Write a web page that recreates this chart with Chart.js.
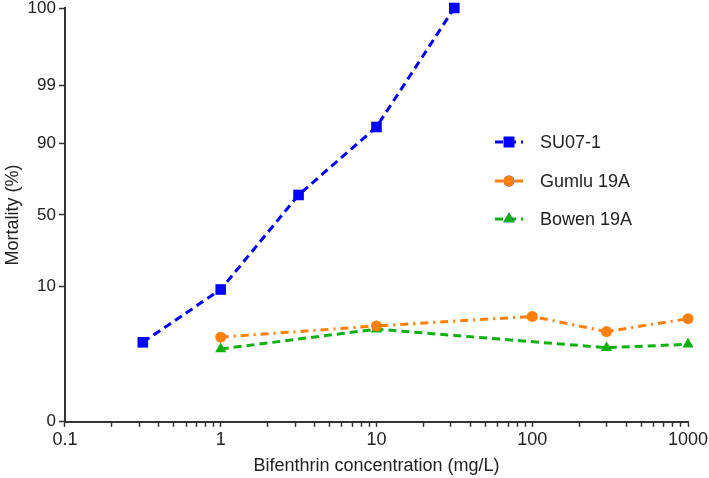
<!DOCTYPE html>
<html>
<head>
<meta charset="utf-8">
<script src="https://cdn.jsdelivr.net/npm/chart.js"></script>
<style>
  html, body { margin: 0; padding: 0; background: #fff; }
  #wrap { width: 709px; height: 478px; }
</style>
</head>
<body>
<div id="wrap"><canvas id="chart"></canvas></div>
<script>
// concentrations (mg/L) and mortality (%)
const concSU07 = [0.316, 1, 3.16, 10, 31.6];
const mortSU07 = [1.1, 9, 64, 94.3, 100];
const concGumlu = [1, 10, 100, 300, 1000];
const mortGumlu = [1.4, 2.3, 3.4, 1.8, 3.1];
const concBowen = [1, 10, 300, 1000];
const mortBowen = [0.8, 2.0, 0.85, 1.0];

const seriesNames = ['SU07-1', 'Gumlu 19A', 'Bowen 19A'];
const yTickValues = [0, 10, 50, 90, 99, 100];
const xTickValues = [0.1, 1, 10, 100, 1000];

// probit transform for the mortality axis (0 and 100 pinned to 0.01 / 99.99 %)
function probit(pct) {
    const p = Math.min(Math.max(pct / 100, 0.0001), 0.9999);
    const a = [-39.69683028665376, 220.9460984245205, -275.9285104469687, 138.3577518672690, -30.66479806614716, 2.506628277459239];
    const b = [-54.47609879822406, 161.5858368580409, -155.6989798598866, 66.80131188771972, -13.28068155288572];
    const c = [-0.007784894002430293, -0.3223964580411365, -2.400758277161838, -2.549732539343734, 4.374664141464968, 2.938163982698783];
    const d = [0.007784695709041462, 0.3224671290700398, 2.445134137142996, 3.754408661907416];
    const pl = 0.02425;
    let q, r;
    if (p < pl) {
        q = Math.sqrt(-2 * Math.log(p));
        return (((((c[0]*q+c[1])*q+c[2])*q+c[3])*q+c[4])*q+c[5]) / ((((d[0]*q+d[1])*q+d[2])*q+d[3])*q+1);
    }
    if (p > 1 - pl) {
        q = Math.sqrt(-2 * Math.log(1 - p));
        return -(((((c[0]*q+c[1])*q+c[2])*q+c[3])*q+c[4])*q+c[5]) / ((((d[0]*q+d[1])*q+d[2])*q+d[3])*q+1);
    }
    q = p - 0.5; r = q * q;
    return (((((a[0]*r+a[1])*r+a[2])*r+a[3])*r+a[4])*r+a[5])*q / (((((b[0]*r+b[1])*r+b[2])*r+b[3])*r+b[4])*r+1);
}

const toPoints = (xs, ys) => xs.map((x, i) => ({ x, y: probit(ys[i]) }));

const FONT = 'Liberation Sans, Arial, sans-serif';
const AXIS = '#333';
const TEXT = '#222';

// legend drawn inside the plot, with line + marker like the original
const insideLegend = {
    id: 'insideLegend',
    afterDraw(chart) {
        const ctx = chart.ctx;
        const x0 = 495, x1 = 523, tx = 540;
        const rows = [142, 181, 219];
        chart.data.datasets.forEach((ds, i) => {
            const y = rows[i];
            ctx.save();
            ctx.strokeStyle = ds.borderColor;
            ctx.lineWidth = ds.borderWidth;
            ctx.setLineDash(ds.borderDash);
            ctx.beginPath();
            ctx.moveTo(x0, y);
            ctx.lineTo(x1, y);
            ctx.stroke();
            ctx.setLineDash([]);
            Chart.helpers.drawPoint(ctx, {
                pointStyle: ds.pointStyle, radius: ds.pointRadius, borderWidth: 0, rotation: 0
            }, (x0 + x1) / 2, y);
            ctx.fillStyle = ds.pointBackgroundColor;
            ctx.fill();
            ctx.fillStyle = TEXT;
            ctx.font = '18px ' + FONT;
            ctx.textBaseline = 'middle';
            ctx.fillText(ds.label, tx, y + 1);
            ctx.restore();
        });
    }
};

new Chart(document.getElementById('chart'), {
    type: 'line',
    data: {
        datasets: [
            {
                label: seriesNames[0],
                data: toPoints(concSU07, mortSU07),
                borderColor: '#0000ff',
                pointBackgroundColor: '#0000ff',
                pointBorderWidth: 0,
                borderWidth: 3,
                borderDash: [8, 5],
                pointStyle: 'rect',
                pointRadius: 7.5
            },
            {
                label: seriesNames[1],
                data: toPoints(concGumlu, mortGumlu),
                borderColor: '#ff800e',
                pointBackgroundColor: '#ff800e',
                pointBorderWidth: 0,
                borderWidth: 3,
                borderDash: [8, 5, 2, 5],
                pointStyle: 'circle',
                pointRadius: 5.5
            },
            {
                label: seriesNames[2],
                data: toPoints(concBowen, mortBowen),
                borderColor: '#10b010',
                pointBackgroundColor: '#10b010',
                pointBorderWidth: 0,
                borderWidth: 3,
                borderDash: [8, 5],
                pointStyle: 'triangle',
                pointRadius: 6.5
            }
        ]
    },
    options: {
        responsive: true,
        maintainAspectRatio: false,
        animation: false,
        clip: false,
        layout: { padding: { top: 0, right: 0, left: 2, bottom: 0 } },
        plugins: { legend: { display: false }, tooltip: { enabled: false } },
        scales: {
            x: {
                type: 'logarithmic',
                min: 0.1,
                max: 1000,
                afterBuildTicks(scale) {
                    const ticks = [];
                    xTickValues.forEach((v, i) => {
                        ticks.push({ value: v, major: true });
                        if (i < xTickValues.length - 1) {
                            for (let k = 2; k <= 9; k++) ticks.push({ value: v * k, major: false });
                        }
                    });
                    scale.ticks = ticks;
                },
                afterFit(scale) { scale.paddingRight = 21; },
                ticks: {
                    autoSkip: false,
                    maxRotation: 0,
                    color: TEXT,
                    font: { family: FONT, size: 18 },
                    padding: 2,
                    callback: (v, i, ticks) => ticks[i].major ? String(v) : ''
                },
                grid: { drawOnChartArea: false, tickLength: 5, tickColor: AXIS, tickWidth: 1.5 },
                border: { color: AXIS, width: 2 },
                title: {
                    display: true,
                    text: 'Bifenthrin concentration (mg/L)',
                    color: TEXT,
                    font: { family: FONT, size: 18 },
                    padding: { top: 3, bottom: 1 }
                }
            },
            y: {
                type: 'linear',
                min: probit(0),
                max: probit(100),
                afterBuildTicks(scale) {
                    scale.ticks = yTickValues.map(v => ({ value: probit(v) }));
                },
                afterFit(scale) { scale.paddingTop = 8; },
                ticks: {
                    autoSkip: false,
                    color: TEXT,
                    font: { family: FONT, size: 17 },
                    padding: 3,
                    callback: (v, i) => String(yTickValues[i])
                },
                grid: { drawOnChartArea: false, tickLength: 6, tickColor: AXIS, tickWidth: 1.5 },
                border: { color: AXIS, width: 2 },
                title: {
                    display: true,
                    text: 'Mortality (%)',
                    color: TEXT,
                    font: { family: FONT, size: 18 },
                    padding: { top: 0, bottom: 1 }
                }
            }
        }
    },
    plugins: [insideLegend]
});
</script>
</body>
</html>
